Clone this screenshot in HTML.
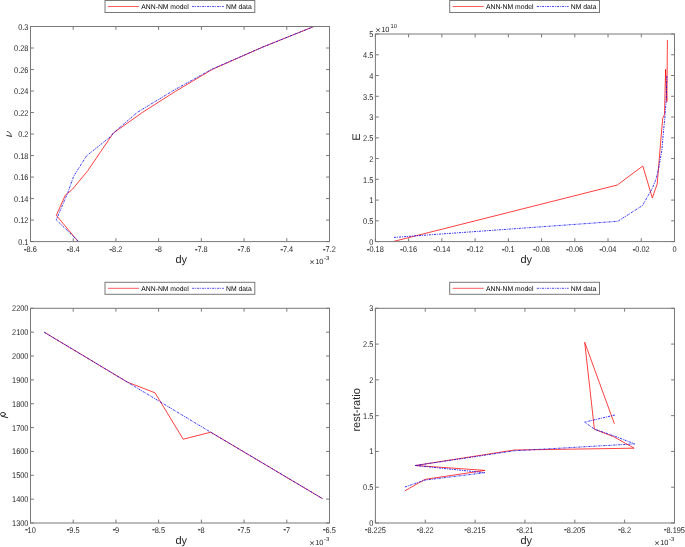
<!DOCTYPE html>
<html><head><meta charset="utf-8"><style>
html,body{margin:0;padding:0;background:#fff;width:685px;height:547px;overflow:hidden;}
svg{display:block;}
text{text-rendering:geometricPrecision;}
</style></head><body><svg width="685" height="547" viewBox="0 0 685 547" style="will-change:transform" font-family='"Liberation Sans", sans-serif'><polyline points="77.9,241.3 56.3,215.3 65.4,195 67.8,193.3 72.6,189.1 87.7,170.8 113.3,133.1 142.2,112.6 175.2,91.5 212.3,69.4 262.2,47.3 313.9,26.5" fill="none" stroke="#ff0000" stroke-width="0.75" stroke-linejoin="round"/><polyline points="78.5,241.3 56.2,219.8 67.8,192.7 73.6,176.4 86.5,155.9 110.9,136.3 113.3,133.1 137.4,112.3 174.2,90.0 212.3,69.0 262.2,47.3 313.9,26.5" fill="none" stroke="#0000ff" stroke-width="0.8" stroke-dasharray="2.2 0.9 0.9 1.0"/><polyline points="394,241.3 617.3,185 642.8,166 652.3,197.9 657.2,184 660.5,144 662.7,118.3 664.5,114.7 665.6,69.2 666.9,101.6 667.4,40.1" fill="none" stroke="#ff0000" stroke-width="0.75" stroke-linejoin="round"/><polyline points="394,237.4 617.8,221.3 642.5,205.5 652.0,189.0 656.0,179.2 658.7,168.3 661.9,150 663.4,132 664.8,118.3 666.2,100 666.9,75.5" fill="none" stroke="#0000ff" stroke-width="0.8" stroke-dasharray="2.2 0.9 0.9 1.0"/><polyline points="44.2,332.2 127.5,382.2 155,392.8 183.2,439.2 210.7,432.2 322.6,498.7" fill="none" stroke="#ff0000" stroke-width="0.75" stroke-linejoin="round"/><polyline points="44.2,332.2 127.5,382.2 210.7,432.2 322.6,498.7" fill="none" stroke="#0000ff" stroke-width="0.8" stroke-dasharray="2.2 0.9 0.9 1.0"/><polyline points="404.9,490.8 424.9,479.4 485,470.4 415.4,465.5 514.3,450.0 634.1,448.2 613.9,436.8 594.4,429.2 584.7,342.3 614.4,423.8" fill="none" stroke="#ff0000" stroke-width="0.75" stroke-linejoin="round"/><polyline points="404.9,487.0 424.9,480.1 484.6,472.7 415.4,465.5 514.3,450.8 634.6,443.9 615.1,436.3 594.4,429.2 584.7,422.1 615.1,415.0" fill="none" stroke="#0000ff" stroke-width="0.8" stroke-dasharray="2.2 0.9 0.9 1.0"/><g stroke="#787878" stroke-width="1.0" fill="none"><line x1="30.50" y1="241.6" x2="30.50" y2="238.2"/><line x1="30.50" y1="26.5" x2="30.50" y2="29.9"/><line x1="73.21" y1="241.6" x2="73.21" y2="238.2"/><line x1="73.21" y1="26.5" x2="73.21" y2="29.9"/><line x1="115.93" y1="241.6" x2="115.93" y2="238.2"/><line x1="115.93" y1="26.5" x2="115.93" y2="29.9"/><line x1="158.64" y1="241.6" x2="158.64" y2="238.2"/><line x1="158.64" y1="26.5" x2="158.64" y2="29.9"/><line x1="201.36" y1="241.6" x2="201.36" y2="238.2"/><line x1="201.36" y1="26.5" x2="201.36" y2="29.9"/><line x1="244.07" y1="241.6" x2="244.07" y2="238.2"/><line x1="244.07" y1="26.5" x2="244.07" y2="29.9"/><line x1="286.79" y1="241.6" x2="286.79" y2="238.2"/><line x1="286.79" y1="26.5" x2="286.79" y2="29.9"/><line x1="329.50" y1="241.6" x2="329.50" y2="238.2"/><line x1="329.50" y1="26.5" x2="329.50" y2="29.9"/><line x1="30.5" y1="241.60" x2="33.9" y2="241.60"/><line x1="329.5" y1="241.60" x2="326.1" y2="241.60"/><line x1="30.5" y1="220.09" x2="33.9" y2="220.09"/><line x1="329.5" y1="220.09" x2="326.1" y2="220.09"/><line x1="30.5" y1="198.58" x2="33.9" y2="198.58"/><line x1="329.5" y1="198.58" x2="326.1" y2="198.58"/><line x1="30.5" y1="177.07" x2="33.9" y2="177.07"/><line x1="329.5" y1="177.07" x2="326.1" y2="177.07"/><line x1="30.5" y1="155.56" x2="33.9" y2="155.56"/><line x1="329.5" y1="155.56" x2="326.1" y2="155.56"/><line x1="30.5" y1="134.05" x2="33.9" y2="134.05"/><line x1="329.5" y1="134.05" x2="326.1" y2="134.05"/><line x1="30.5" y1="112.54" x2="33.9" y2="112.54"/><line x1="329.5" y1="112.54" x2="326.1" y2="112.54"/><line x1="30.5" y1="91.03" x2="33.9" y2="91.03"/><line x1="329.5" y1="91.03" x2="326.1" y2="91.03"/><line x1="30.5" y1="69.52" x2="33.9" y2="69.52"/><line x1="329.5" y1="69.52" x2="326.1" y2="69.52"/><line x1="30.5" y1="48.01" x2="33.9" y2="48.01"/><line x1="329.5" y1="48.01" x2="326.1" y2="48.01"/><line x1="30.5" y1="26.50" x2="33.9" y2="26.50"/><line x1="329.5" y1="26.50" x2="326.1" y2="26.50"/><rect x="30.5" y="26.5" width="299.00" height="215.10" fill="none"/></g><g font-size="7.4" fill="#262626"><text transform="translate(24.12,251.80) scale(1,1.12)"><tspan stroke="#262626" stroke-width="0.4" dy="-0.25">-</tspan><tspan dy="0.25">8.6</tspan></text><text transform="translate(66.84,251.80) scale(1,1.12)"><tspan stroke="#262626" stroke-width="0.4" dy="-0.25">-</tspan><tspan dy="0.25">8.4</tspan></text><text transform="translate(109.55,251.80) scale(1,1.12)"><tspan stroke="#262626" stroke-width="0.4" dy="-0.25">-</tspan><tspan dy="0.25">8.2</tspan></text><text transform="translate(155.35,251.80) scale(1,1.12)"><tspan stroke="#262626" stroke-width="0.4" dy="-0.25">-</tspan><tspan dy="0.25">8</tspan></text><text transform="translate(194.98,251.80) scale(1,1.12)"><tspan stroke="#262626" stroke-width="0.4" dy="-0.25">-</tspan><tspan dy="0.25">7.8</tspan></text><text transform="translate(237.70,251.80) scale(1,1.12)"><tspan stroke="#262626" stroke-width="0.4" dy="-0.25">-</tspan><tspan dy="0.25">7.6</tspan></text><text transform="translate(280.41,251.80) scale(1,1.12)"><tspan stroke="#262626" stroke-width="0.4" dy="-0.25">-</tspan><tspan dy="0.25">7.4</tspan></text><text transform="translate(323.12,251.80) scale(1,1.12)"><tspan stroke="#262626" stroke-width="0.4" dy="-0.25">-</tspan><tspan dy="0.25">7.2</tspan></text><text transform="translate(18.21,245.00) scale(1,1.12)">0.1</text><text transform="translate(14.10,223.49) scale(1,1.12)">0.12</text><text transform="translate(14.10,201.98) scale(1,1.12)">0.14</text><text transform="translate(14.10,180.47) scale(1,1.12)">0.16</text><text transform="translate(14.10,158.96) scale(1,1.12)">0.18</text><text transform="translate(18.21,137.45) scale(1,1.12)">0.2</text><text transform="translate(14.10,115.94) scale(1,1.12)">0.22</text><text transform="translate(14.10,94.43) scale(1,1.12)">0.24</text><text transform="translate(14.10,72.92) scale(1,1.12)">0.26</text><text transform="translate(14.10,51.41) scale(1,1.12)">0.28</text><text transform="translate(18.21,29.90) scale(1,1.12)">0.3</text></g><g stroke="#787878" stroke-width="1.0" fill="none"><line x1="375.40" y1="241.6" x2="375.40" y2="238.2"/><line x1="375.40" y1="34.0" x2="375.40" y2="37.4"/><line x1="408.63" y1="241.6" x2="408.63" y2="238.2"/><line x1="408.63" y1="34.0" x2="408.63" y2="37.4"/><line x1="441.87" y1="241.6" x2="441.87" y2="238.2"/><line x1="441.87" y1="34.0" x2="441.87" y2="37.4"/><line x1="475.10" y1="241.6" x2="475.10" y2="238.2"/><line x1="475.10" y1="34.0" x2="475.10" y2="37.4"/><line x1="508.33" y1="241.6" x2="508.33" y2="238.2"/><line x1="508.33" y1="34.0" x2="508.33" y2="37.4"/><line x1="541.57" y1="241.6" x2="541.57" y2="238.2"/><line x1="541.57" y1="34.0" x2="541.57" y2="37.4"/><line x1="574.80" y1="241.6" x2="574.80" y2="238.2"/><line x1="574.80" y1="34.0" x2="574.80" y2="37.4"/><line x1="608.03" y1="241.6" x2="608.03" y2="238.2"/><line x1="608.03" y1="34.0" x2="608.03" y2="37.4"/><line x1="641.27" y1="241.6" x2="641.27" y2="238.2"/><line x1="641.27" y1="34.0" x2="641.27" y2="37.4"/><line x1="674.50" y1="241.6" x2="674.50" y2="238.2"/><line x1="674.50" y1="34.0" x2="674.50" y2="37.4"/><line x1="375.4" y1="241.60" x2="378.79999999999995" y2="241.60"/><line x1="674.5" y1="241.60" x2="671.1" y2="241.60"/><line x1="375.4" y1="220.84" x2="378.79999999999995" y2="220.84"/><line x1="674.5" y1="220.84" x2="671.1" y2="220.84"/><line x1="375.4" y1="200.08" x2="378.79999999999995" y2="200.08"/><line x1="674.5" y1="200.08" x2="671.1" y2="200.08"/><line x1="375.4" y1="179.32" x2="378.79999999999995" y2="179.32"/><line x1="674.5" y1="179.32" x2="671.1" y2="179.32"/><line x1="375.4" y1="158.56" x2="378.79999999999995" y2="158.56"/><line x1="674.5" y1="158.56" x2="671.1" y2="158.56"/><line x1="375.4" y1="137.80" x2="378.79999999999995" y2="137.80"/><line x1="674.5" y1="137.80" x2="671.1" y2="137.80"/><line x1="375.4" y1="117.04" x2="378.79999999999995" y2="117.04"/><line x1="674.5" y1="117.04" x2="671.1" y2="117.04"/><line x1="375.4" y1="96.28" x2="378.79999999999995" y2="96.28"/><line x1="674.5" y1="96.28" x2="671.1" y2="96.28"/><line x1="375.4" y1="75.52" x2="378.79999999999995" y2="75.52"/><line x1="674.5" y1="75.52" x2="671.1" y2="75.52"/><line x1="375.4" y1="54.76" x2="378.79999999999995" y2="54.76"/><line x1="674.5" y1="54.76" x2="671.1" y2="54.76"/><line x1="375.4" y1="34.00" x2="378.79999999999995" y2="34.00"/><line x1="674.5" y1="34.00" x2="671.1" y2="34.00"/><rect x="375.4" y="34.0" width="299.10" height="207.60" fill="none"/></g><g font-size="7.4" fill="#262626"><text transform="translate(366.97,251.80) scale(1,1.12)"><tspan stroke="#262626" stroke-width="0.4" dy="-0.25">-</tspan><tspan dy="0.25">0.18</tspan></text><text transform="translate(400.20,251.80) scale(1,1.12)"><tspan stroke="#262626" stroke-width="0.4" dy="-0.25">-</tspan><tspan dy="0.25">0.16</tspan></text><text transform="translate(433.43,251.80) scale(1,1.12)"><tspan stroke="#262626" stroke-width="0.4" dy="-0.25">-</tspan><tspan dy="0.25">0.14</tspan></text><text transform="translate(466.67,251.80) scale(1,1.12)"><tspan stroke="#262626" stroke-width="0.4" dy="-0.25">-</tspan><tspan dy="0.25">0.12</tspan></text><text transform="translate(501.96,251.80) scale(1,1.12)"><tspan stroke="#262626" stroke-width="0.4" dy="-0.25">-</tspan><tspan dy="0.25">0.1</tspan></text><text transform="translate(533.13,251.80) scale(1,1.12)"><tspan stroke="#262626" stroke-width="0.4" dy="-0.25">-</tspan><tspan dy="0.25">0.08</tspan></text><text transform="translate(566.37,251.80) scale(1,1.12)"><tspan stroke="#262626" stroke-width="0.4" dy="-0.25">-</tspan><tspan dy="0.25">0.06</tspan></text><text transform="translate(599.60,251.80) scale(1,1.12)"><tspan stroke="#262626" stroke-width="0.4" dy="-0.25">-</tspan><tspan dy="0.25">0.04</tspan></text><text transform="translate(632.83,251.80) scale(1,1.12)"><tspan stroke="#262626" stroke-width="0.4" dy="-0.25">-</tspan><tspan dy="0.25">0.02</tspan></text><text transform="translate(672.44,251.80) scale(1,1.12)">0</text><text transform="translate(369.29,245.00) scale(1,1.12)">0</text><text transform="translate(363.11,224.24) scale(1,1.12)">0.5</text><text transform="translate(369.29,203.48) scale(1,1.12)">1</text><text transform="translate(363.11,182.72) scale(1,1.12)">1.5</text><text transform="translate(369.29,161.96) scale(1,1.12)">2</text><text transform="translate(363.11,141.20) scale(1,1.12)">2.5</text><text transform="translate(369.29,120.44) scale(1,1.12)">3</text><text transform="translate(363.11,99.68) scale(1,1.12)">3.5</text><text transform="translate(369.29,78.92) scale(1,1.12)">4</text><text transform="translate(363.11,58.16) scale(1,1.12)">4.5</text><text transform="translate(369.29,37.40) scale(1,1.12)">5</text></g><g stroke="#787878" stroke-width="1.0" fill="none"><line x1="30.50" y1="523.0" x2="30.50" y2="519.6"/><line x1="30.50" y1="308.3" x2="30.50" y2="311.7"/><line x1="73.21" y1="523.0" x2="73.21" y2="519.6"/><line x1="73.21" y1="308.3" x2="73.21" y2="311.7"/><line x1="115.93" y1="523.0" x2="115.93" y2="519.6"/><line x1="115.93" y1="308.3" x2="115.93" y2="311.7"/><line x1="158.64" y1="523.0" x2="158.64" y2="519.6"/><line x1="158.64" y1="308.3" x2="158.64" y2="311.7"/><line x1="201.36" y1="523.0" x2="201.36" y2="519.6"/><line x1="201.36" y1="308.3" x2="201.36" y2="311.7"/><line x1="244.07" y1="523.0" x2="244.07" y2="519.6"/><line x1="244.07" y1="308.3" x2="244.07" y2="311.7"/><line x1="286.79" y1="523.0" x2="286.79" y2="519.6"/><line x1="286.79" y1="308.3" x2="286.79" y2="311.7"/><line x1="329.50" y1="523.0" x2="329.50" y2="519.6"/><line x1="329.50" y1="308.3" x2="329.50" y2="311.7"/><line x1="30.5" y1="523.00" x2="33.9" y2="523.00"/><line x1="329.5" y1="523.00" x2="326.1" y2="523.00"/><line x1="30.5" y1="499.14" x2="33.9" y2="499.14"/><line x1="329.5" y1="499.14" x2="326.1" y2="499.14"/><line x1="30.5" y1="475.29" x2="33.9" y2="475.29"/><line x1="329.5" y1="475.29" x2="326.1" y2="475.29"/><line x1="30.5" y1="451.43" x2="33.9" y2="451.43"/><line x1="329.5" y1="451.43" x2="326.1" y2="451.43"/><line x1="30.5" y1="427.58" x2="33.9" y2="427.58"/><line x1="329.5" y1="427.58" x2="326.1" y2="427.58"/><line x1="30.5" y1="403.72" x2="33.9" y2="403.72"/><line x1="329.5" y1="403.72" x2="326.1" y2="403.72"/><line x1="30.5" y1="379.87" x2="33.9" y2="379.87"/><line x1="329.5" y1="379.87" x2="326.1" y2="379.87"/><line x1="30.5" y1="356.01" x2="33.9" y2="356.01"/><line x1="329.5" y1="356.01" x2="326.1" y2="356.01"/><line x1="30.5" y1="332.16" x2="33.9" y2="332.16"/><line x1="329.5" y1="332.16" x2="326.1" y2="332.16"/><line x1="30.5" y1="308.30" x2="33.9" y2="308.30"/><line x1="329.5" y1="308.30" x2="326.1" y2="308.30"/><rect x="30.5" y="308.3" width="299.00" height="214.70" fill="none"/></g><g font-size="7.4" fill="#262626"><text transform="translate(25.15,532.60) scale(1,1.12)"><tspan stroke="#262626" stroke-width="0.4" dy="-0.25">-</tspan><tspan dy="0.25">10</tspan></text><text transform="translate(66.84,532.60) scale(1,1.12)"><tspan stroke="#262626" stroke-width="0.4" dy="-0.25">-</tspan><tspan dy="0.25">9.5</tspan></text><text transform="translate(112.64,532.60) scale(1,1.12)"><tspan stroke="#262626" stroke-width="0.4" dy="-0.25">-</tspan><tspan dy="0.25">9</tspan></text><text transform="translate(152.27,532.60) scale(1,1.12)"><tspan stroke="#262626" stroke-width="0.4" dy="-0.25">-</tspan><tspan dy="0.25">8.5</tspan></text><text transform="translate(198.07,532.60) scale(1,1.12)"><tspan stroke="#262626" stroke-width="0.4" dy="-0.25">-</tspan><tspan dy="0.25">8</tspan></text><text transform="translate(237.70,532.60) scale(1,1.12)"><tspan stroke="#262626" stroke-width="0.4" dy="-0.25">-</tspan><tspan dy="0.25">7.5</tspan></text><text transform="translate(283.50,532.60) scale(1,1.12)"><tspan stroke="#262626" stroke-width="0.4" dy="-0.25">-</tspan><tspan dy="0.25">7</tspan></text><text transform="translate(323.12,532.60) scale(1,1.12)"><tspan stroke="#262626" stroke-width="0.4" dy="-0.25">-</tspan><tspan dy="0.25">6.5</tspan></text><text transform="translate(12.04,526.00) scale(1,1.12)">1300</text><text transform="translate(12.04,502.14) scale(1,1.12)">1400</text><text transform="translate(12.04,478.29) scale(1,1.12)">1500</text><text transform="translate(12.04,454.43) scale(1,1.12)">1600</text><text transform="translate(12.04,430.58) scale(1,1.12)">1700</text><text transform="translate(12.04,406.72) scale(1,1.12)">1800</text><text transform="translate(12.04,382.87) scale(1,1.12)">1900</text><text transform="translate(12.04,359.01) scale(1,1.12)">2000</text><text transform="translate(12.04,335.16) scale(1,1.12)">2100</text><text transform="translate(12.04,311.30) scale(1,1.12)">2200</text></g><g stroke="#787878" stroke-width="1.0" fill="none"><line x1="375.40" y1="523.0" x2="375.40" y2="519.6"/><line x1="375.40" y1="308.3" x2="375.40" y2="311.7"/><line x1="425.25" y1="523.0" x2="425.25" y2="519.6"/><line x1="425.25" y1="308.3" x2="425.25" y2="311.7"/><line x1="475.10" y1="523.0" x2="475.10" y2="519.6"/><line x1="475.10" y1="308.3" x2="475.10" y2="311.7"/><line x1="524.95" y1="523.0" x2="524.95" y2="519.6"/><line x1="524.95" y1="308.3" x2="524.95" y2="311.7"/><line x1="574.80" y1="523.0" x2="574.80" y2="519.6"/><line x1="574.80" y1="308.3" x2="574.80" y2="311.7"/><line x1="624.65" y1="523.0" x2="624.65" y2="519.6"/><line x1="624.65" y1="308.3" x2="624.65" y2="311.7"/><line x1="674.50" y1="523.0" x2="674.50" y2="519.6"/><line x1="674.50" y1="308.3" x2="674.50" y2="311.7"/><line x1="375.4" y1="523.00" x2="378.79999999999995" y2="523.00"/><line x1="674.5" y1="523.00" x2="671.1" y2="523.00"/><line x1="375.4" y1="487.22" x2="378.79999999999995" y2="487.22"/><line x1="674.5" y1="487.22" x2="671.1" y2="487.22"/><line x1="375.4" y1="451.43" x2="378.79999999999995" y2="451.43"/><line x1="674.5" y1="451.43" x2="671.1" y2="451.43"/><line x1="375.4" y1="415.65" x2="378.79999999999995" y2="415.65"/><line x1="674.5" y1="415.65" x2="671.1" y2="415.65"/><line x1="375.4" y1="379.87" x2="378.79999999999995" y2="379.87"/><line x1="674.5" y1="379.87" x2="671.1" y2="379.87"/><line x1="375.4" y1="344.08" x2="378.79999999999995" y2="344.08"/><line x1="674.5" y1="344.08" x2="671.1" y2="344.08"/><line x1="375.4" y1="308.30" x2="378.79999999999995" y2="308.30"/><line x1="674.5" y1="308.30" x2="671.1" y2="308.30"/><rect x="375.4" y="308.3" width="299.10" height="214.70" fill="none"/></g><g font-size="7.4" fill="#262626"><text transform="translate(364.91,532.60) scale(1,1.12)"><tspan stroke="#262626" stroke-width="0.4" dy="-0.25">-</tspan><tspan dy="0.25">8.225</tspan></text><text transform="translate(416.82,532.60) scale(1,1.12)"><tspan stroke="#262626" stroke-width="0.4" dy="-0.25">-</tspan><tspan dy="0.25">8.22</tspan></text><text transform="translate(464.61,532.60) scale(1,1.12)"><tspan stroke="#262626" stroke-width="0.4" dy="-0.25">-</tspan><tspan dy="0.25">8.215</tspan></text><text transform="translate(516.52,532.60) scale(1,1.12)"><tspan stroke="#262626" stroke-width="0.4" dy="-0.25">-</tspan><tspan dy="0.25">8.21</tspan></text><text transform="translate(564.31,532.60) scale(1,1.12)"><tspan stroke="#262626" stroke-width="0.4" dy="-0.25">-</tspan><tspan dy="0.25">8.205</tspan></text><text transform="translate(618.27,532.60) scale(1,1.12)"><tspan stroke="#262626" stroke-width="0.4" dy="-0.25">-</tspan><tspan dy="0.25">8.2</tspan></text><text transform="translate(664.01,532.60) scale(1,1.12)"><tspan stroke="#262626" stroke-width="0.4" dy="-0.25">-</tspan><tspan dy="0.25">8.195</tspan></text><text transform="translate(369.29,526.00) scale(1,1.12)">0</text><text transform="translate(363.11,490.22) scale(1,1.12)">0.5</text><text transform="translate(369.29,454.43) scale(1,1.12)">1</text><text transform="translate(363.11,418.65) scale(1,1.12)">1.5</text><text transform="translate(369.29,382.87) scale(1,1.12)">2</text><text transform="translate(363.11,347.08) scale(1,1.12)">2.5</text><text transform="translate(369.29,311.30) scale(1,1.12)">3</text></g><rect x="105.0" y="0.5" width="149.80" height="12.00" fill="#fff" stroke="#787878" stroke-width="1.0"/><line x1="108" y1="6.5" x2="139" y2="6.5" stroke="#ff0000" stroke-width="0.65"/><line x1="192.1" y1="6.5" x2="223.9" y2="6.5" stroke="#0000ff" stroke-width="0.7" stroke-dasharray="2.2 0.9 0.9 1.0"/><text x="141.3" y="9.2" font-size="6.8" fill="#000">ANN-NM model</text><text x="226.1" y="9.2" font-size="6.8" fill="#000">NM data</text><rect x="449.7" y="0.5" width="149.80" height="12.00" fill="#fff" stroke="#787878" stroke-width="1.0"/><line x1="452.7" y1="6.5" x2="483.7" y2="6.5" stroke="#ff0000" stroke-width="0.65"/><line x1="536.8" y1="6.5" x2="568.6" y2="6.5" stroke="#0000ff" stroke-width="0.7" stroke-dasharray="2.2 0.9 0.9 1.0"/><text x="486.0" y="9.2" font-size="6.8" fill="#000">ANN-NM model</text><text x="570.8" y="9.2" font-size="6.8" fill="#000">NM data</text><rect x="105.0" y="282.3" width="149.80" height="12.00" fill="#fff" stroke="#787878" stroke-width="1.0"/><line x1="108" y1="288.3" x2="139" y2="288.3" stroke="#ff0000" stroke-width="0.65"/><line x1="192.1" y1="288.3" x2="223.9" y2="288.3" stroke="#0000ff" stroke-width="0.7" stroke-dasharray="2.2 0.9 0.9 1.0"/><text x="141.3" y="291.0" font-size="6.8" fill="#000">ANN-NM model</text><text x="226.1" y="291.0" font-size="6.8" fill="#000">NM data</text><rect x="449.7" y="282.3" width="149.80" height="12.00" fill="#fff" stroke="#787878" stroke-width="1.0"/><line x1="452.7" y1="288.3" x2="483.7" y2="288.3" stroke="#ff0000" stroke-width="0.65"/><line x1="536.8" y1="288.3" x2="568.6" y2="288.3" stroke="#0000ff" stroke-width="0.7" stroke-dasharray="2.2 0.9 0.9 1.0"/><text x="486.0" y="291.0" font-size="6.8" fill="#000">ANN-NM model</text><text x="570.8" y="291.0" font-size="6.8" fill="#000">NM data</text><g fill="#262626" text-anchor="middle"><text x="312.0" y="264.86" font-size="8.6">×</text><text x="319.36" y="263.8" font-size="7.4">10</text><text x="326.6" y="259.6" font-size="5.8">-3</text></g><g fill="#262626" text-anchor="middle"><text x="312.0" y="546.26" font-size="8.6">×</text><text x="319.36" y="545.2" font-size="7.4">10</text><text x="326.6" y="541.0" font-size="5.8">-3</text></g><g fill="#262626" text-anchor="middle"><text x="657.0" y="546.26" font-size="8.6">×</text><text x="664.36" y="545.2" font-size="7.4">10</text><text x="671.6" y="541.0" font-size="5.8">-3</text></g><g fill="#262626" text-anchor="middle"><text x="378.0" y="32.81" font-size="8.6">×</text><text x="385.36" y="31.8" font-size="7.4">10</text><text x="393.65" y="27.7" font-size="5.8">10</text></g><text x="181.3" y="263.1" font-size="11" text-anchor="middle" fill="#262626">dy</text><text x="526.3" y="263.1" font-size="11" text-anchor="middle" fill="#262626">dy</text><text x="181.3" y="543.7" font-size="11" text-anchor="middle" fill="#262626">dy</text><text x="526.3" y="543.7" font-size="11" text-anchor="middle" fill="#262626">dy</text><g fill="none" stroke="#262626" stroke-linecap="round"><path d="M6.9,135.5 L11.3,136.4" stroke-width="1.0"/><path d="M7.2,131.4 C9.4,132.0 11.2,133.3 11.3,136.4" stroke-width="0.8"/></g><text transform="translate(359.7,137.05) rotate(-90)" font-size="11" text-anchor="middle" fill="#262626">E</text><g fill="none" stroke="#262626" stroke-linecap="round"><ellipse cx="2.95" cy="414.25" rx="2.45" ry="1.85" stroke-width="0.9"/><path d="M1.9,416.2 L7.7,417.7" stroke-width="1.0"/></g><text transform="translate(360.2,409.85) rotate(-90)" font-size="11" text-anchor="middle" fill="#262626">rest-ratio</text></svg></body></html>
